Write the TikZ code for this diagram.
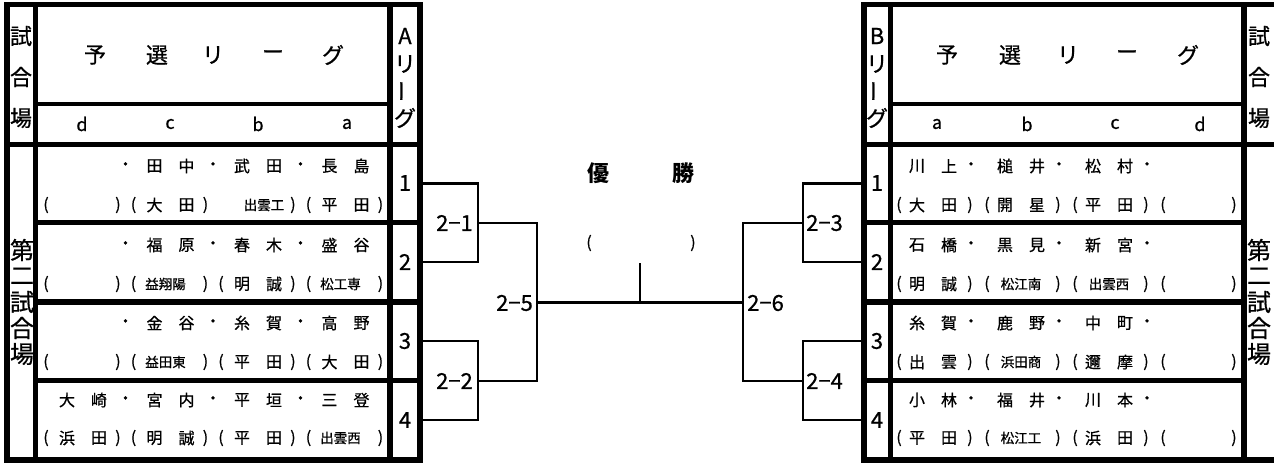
\documentclass[tikz,border=0pt]{standalone}
\usepackage{fontspec}
\setmainfont{Noto Sans CJK JP}[UprightFeatures={FakeBold=0.7}]
\newcounter{tnode}
\newcommand\tx[3][nm]{\stepcounter{tnode}\node[#1] (t\arabic{tnode}) at (#2) {#3};}
% left side groups
\newcommand\lnm[4]{\tx{#1+29,#2}{#3}\tx{#1+61,#2}{#4}}
\newcommand\ldot[2]{\tx{#1,#2}{・}}
\newcommand\lpr[4]{\tx[paren]{#1+8,#2}{(}\tx{#1+29,#2}{#3}\tx{#1+61,#2}{#4}\tx[paren]{#1+80,#2}{)}}
\newcommand\lsc[3]{\tx[paren]{#1+8,#2}{(}\tx[sch]{#1+40,#2}{#3}\tx[paren]{#1+80,#2}{)}}
\newcommand\lem[2]{\tx[paren]{#1+8,#2}{(}\tx[paren]{#1+80,#2}{)}}
% right side groups
\newcommand\rnm[4]{\tx{#1+25,#2}{#3}\tx{#1+57,#2}{#4}\tx{#1+79,#2}{・}}
\newcommand\rpr[4]{\tx[paren]{#1+7,#2}{(}\tx{#1+25,#2}{#3}\tx{#1+57,#2}{#4}\tx[paren]{#1+78,#2}{)}}
\newcommand\rsc[3]{\tx[paren]{#1+7,#2}{(}\tx[sch]{#1+41,#2}{#3}\tx[paren]{#1+78,#2}{)}}
\newcommand\rem[2]{\tx[paren]{#1+7,#2}{(}\tx[paren]{#1+78,#2}{)}}
\begin{document}
\begin{tikzpicture}[x=1pt,y=-1pt,
  frame/.style={line width=5.5pt},
  divl/.style={line width=4pt},
  brk/.style={line width=2.6pt},
  nm/.style={inner sep=0pt,font=\fontsize{16}{16}\selectfont},
  sch/.style={inner sep=0pt,font=\fontsize{13.5}{13.5}\selectfont},
  paren/.style={inner sep=0pt,font=\fontsize{16}{16}\selectfont},
  hdr/.style={inner sep=0pt,font=\fontsize{22}{22}\selectfont},
  lat/.style={inner sep=0pt,font=\fontsize{18}{18}\selectfont},
  colt/.style={inner sep=0pt,font=\fontsize{22}{22}\selectfont},
  bigc/.style={inner sep=0pt,font=\fontsize{24}{24}\selectfont},
  num/.style={inner sep=0pt,font=\fontsize{22}{22}\selectfont},
  lab/.style={inner sep=0pt,font=\fontsize{22}{22}\selectfont},
  win/.style={inner sep=0pt,font=\fontsize{22}{22}\selectfont\bfseries},
  wp/.style={inner sep=0pt,font=\fontsize{16}{16}\selectfont}]
\useasboundingbox (0,0) rectangle (1274,463);

% ---------- bracket coordinates ----------
\coordinate (a1) at (420,183.5); \coordinate (a2) at (420,262);
\coordinate (a3) at (420,341);   \coordinate (a4) at (420,420);
\coordinate (m1) at (478,223);   \coordinate (m2) at (478,381);
\coordinate (f1) at (537,302.5); \coordinate (f2) at (743,302.5);
\coordinate (w1) at (640,263);   \coordinate (w2) at (640,302.5);
\coordinate (n1) at (803,223);   \coordinate (n2) at (803,381);
\coordinate (b1) at (864,183.5); \coordinate (b2) at (864,262);
\coordinate (b3) at (864,341);   \coordinate (b4) at (864,420);

\draw[brk] (a1) -| (m1) |- (a2);
\draw[brk] (a3) -| (m2) |- (a4);
\draw[brk] (m1) -| (f1) |- (m2);
\draw[brk] (f1) -- (f2);
\draw[brk] (w1) -- (w2);
\draw[brk] (b1) -| (n1) |- (b2);
\draw[brk] (b3) -| (n2) |- (b4);
\draw[brk] (n1) -| (f2) |- (n2);

\node[lab,anchor=east] (l21) at (473,223) {2−1};
\node[lab,anchor=east] (l22) at (473,381) {2−2};
\node[lab,anchor=east] (l25) at (533,303) {2−5};
\node[lab,anchor=west] (l26) at (747,303) {2−6};
\node[lab,anchor=west] (l23) at (806,223) {2−3};
\node[lab,anchor=west] (l24) at (806,381) {2−4};

\node[win] (yu) at (598,173) {優};
\node[win] (sho) at (683,173) {勝};
\node[wp] (wpl) at (589,243) {(};
\node[wp] (wpr) at (693,243) {)};

% ---------- left frame ----------
\draw[frame] (7,4.5) rectangle (420,460);
\draw[frame] (35.5,4.5) -- (35.5,460);
\draw[frame] (390,4.5) -- (390,460);
\draw[frame] (7,144.5) -- (420,144.5);
\draw[divl] (35.5,104) -- (390,104);
\draw[frame] (35.5,222.5) -- (420,222.5);
\draw[frame] (35.5,302) -- (420,302);
\draw[frame] (35.5,380.5) -- (420,380.5);

% ---------- right frame ----------
\draw[frame] (864,4.5) rectangle (1280,460);
\draw[frame] (890.5,4.5) -- (890.5,460);
\draw[frame] (1244,4.5) -- (1244,460);
\draw[frame] (864,144.5) -- (1280,144.5);
\draw[divl] (890.5,104) -- (1244,104);
\draw[frame] (864,222.5) -- (1244,222.5);
\draw[frame] (864,302) -- (1244,302);
\draw[frame] (864,380.5) -- (1244,380.5);

% ---------- left header ----------
\tx[colt]{21,36}{試}\tx[colt]{21,77}{合}\tx[colt]{21,118}{場}
\tx[hdr]{95,55}{予}\tx[hdr]{157,55}{選}\tx[hdr]{213,55}{リ}\tx[hdr]{273,55}{ー}\tx[hdr]{333,55}{グ}
\tx[lat]{82,124}{d}\tx[lat]{170,124}{c}\tx[lat]{258,124}{b}\tx[lat]{347,124}{a}
\tx[colt]{405,36}{A}\tx[colt]{405,64}{リ}\tx[colt,rotate=90]{405,91}{ー}\tx[colt]{405,118}{グ}

% ---------- right header ----------
\tx[colt]{877,36}{B}\tx[colt]{877,64}{リ}\tx[colt,rotate=90]{877,91}{ー}\tx[colt]{877,118}{グ}
\tx[hdr]{947,55}{予}\tx[hdr]{1010,55}{選}\tx[hdr]{1068,55}{リ}\tx[hdr]{1127,55}{ー}\tx[hdr]{1188,55}{グ}
\tx[lat]{937,124}{a}\tx[lat]{1027,124}{b}\tx[lat]{1115,124}{c}\tx[lat]{1200,124}{d}
\tx[colt]{1259,36}{試}\tx[colt]{1259,77}{合}\tx[colt]{1259,118}{場}

% ---------- body side columns ----------
\tx[bigc]{22,250}{第}\tx[bigc]{22,276}{二}\tx[bigc]{22,302}{試}\tx[bigc]{22,328}{合}\tx[bigc]{22,354}{場}
\tx[bigc]{1259,250}{第}\tx[bigc]{1259,276}{二}\tx[bigc]{1259,302}{試}\tx[bigc]{1259,328}{合}\tx[bigc]{1259,354}{場}

% numbers
\tx[num]{405,183}{1}\tx[num]{405,262}{2}\tx[num]{405,341}{3}\tx[num]{405,420}{4}
\tx[num]{877,183}{1}\tx[num]{877,262}{2}\tx[num]{877,341}{3}\tx[num]{877,420}{4}

% ---------- left rows (groups d=38, c=125.5, b=213, a=300.5) ----------
% row 1
\ldot{125.5}{166}\ldot{213}{166}\ldot{300.5}{166}
\lnm{125.5}{166}{田}{中}\lnm{213}{166}{武}{田}\lnm{300.5}{166}{長}{島}
\lem{38}{205}\lpr{125.5}{205}{大}{田}
\tx[sch]{264,205}{出雲工}\tx[paren]{293,205}{)}
\lpr{300.5}{205}{平}{田}
% row 2
\ldot{125.5}{245}\ldot{213}{245}\ldot{300.5}{245}
\lnm{125.5}{245}{福}{原}\lnm{213}{245}{春}{木}\lnm{300.5}{245}{盛}{谷}
\lem{38}{284}\lsc{125.5}{284}{益翔陽}\lpr{213}{284}{明}{誠}\lsc{300.5}{284}{松工専}
% row 3
\ldot{125.5}{323}\ldot{213}{323}\ldot{300.5}{323}
\lnm{125.5}{323}{金}{谷}\lnm{213}{323}{糸}{賀}\lnm{300.5}{323}{高}{野}
\lem{38}{362}\lsc{125.5}{362}{益田東}\lpr{213}{362}{平}{田}\lpr{300.5}{362}{大}{田}
% row 4
\lnm{38}{400}{大}{崎}
\ldot{125.5}{400}\ldot{213}{400}\ldot{300.5}{400}
\lnm{125.5}{400}{宮}{内}\lnm{213}{400}{平}{垣}\lnm{300.5}{400}{三}{登}
\lpr{38}{438}{浜}{田}\lpr{125.5}{438}{明}{誠}\lpr{213}{438}{平}{田}\lsc{300.5}{438}{出雲西}

% ---------- right rows (groups a=892, b=980, c=1068, d=1156) ----------
% row 1
\rnm{892}{166}{川}{上}\rnm{980}{166}{槌}{井}\rnm{1068}{166}{松}{村}
\rpr{892}{205}{大}{田}\rpr{980}{205}{開}{星}\rpr{1068}{205}{平}{田}\rem{1156}{205}
% row 2
\rnm{892}{245}{石}{橋}\rnm{980}{245}{黒}{見}\rnm{1068}{245}{新}{宮}
\rpr{892}{284}{明}{誠}\rsc{980}{284}{松江南}\rsc{1068}{284}{出雲西}\rem{1156}{284}
% row 3
\rnm{892}{323}{糸}{賀}\rnm{980}{323}{鹿}{野}\rnm{1068}{323}{中}{町}
\rpr{892}{362}{出}{雲}\rsc{980}{362}{浜田商}\rpr{1068}{362}{邇}{摩}\rem{1156}{362}
% row 4
\rnm{892}{400}{小}{林}\rnm{980}{400}{福}{井}\rnm{1068}{400}{川}{本}
\rpr{892}{438}{平}{田}\rsc{980}{438}{松江工}\rpr{1068}{438}{浜}{田}\rem{1156}{438}
\end{tikzpicture}
\end{document}
